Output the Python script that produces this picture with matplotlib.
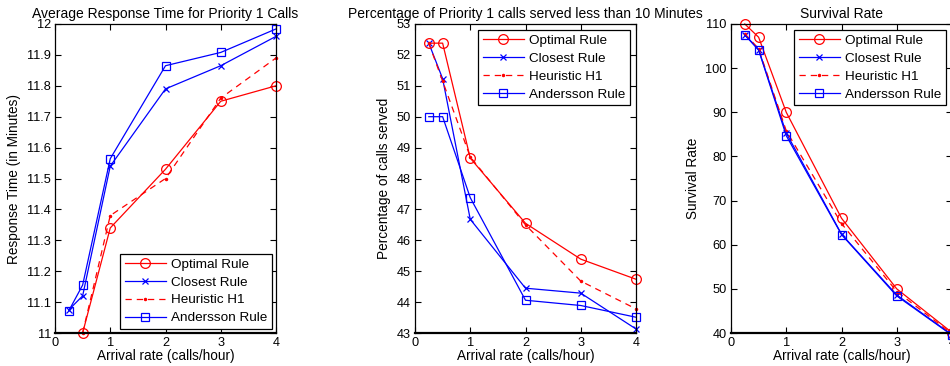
import numpy as np
import matplotlib
matplotlib.use("Agg")
import matplotlib.pyplot as plt
from matplotlib.ticker import FixedLocator, FuncFormatter

plt.rcParams['font.family'] = ['Liberation Sans', 'DejaVu Sans']
plt.rcParams['font.size'] = 9

# Arrival rates (calls/hour)
arrival = [0.25, 0.5, 1, 2, 3, 4]
nan = np.nan

# Average response time for priority 1 calls (minutes)
resp_optimal = [nan, 11.00, 11.34, 11.53, 11.75, 11.80]
resp_closest = [11.075, 11.12, 11.54, 11.79, 11.865, 11.96]
resp_heuristic = [nan, 11.00, 11.38, 11.50, 11.76, 11.89]
resp_andersson = [11.072, 11.155, 11.564, 11.865, 11.908, 11.984]

# Percentage of priority 1 calls served within 10 minutes
pct_optimal = [52.38, 52.38, 48.66, 46.55, 45.39, 44.74]
pct_closest = [52.38, 51.23, 46.68, 44.45, 44.29, 43.13]
pct_heuristic = [52.38, 51.15, 48.70, 46.50, 44.68, 43.78]
pct_andersson = [50.0, 50.0, 47.38, 44.06, 43.89, 43.51]

# Survival rate
surv_optimal = [110.0, 107.0, 90.0, 66.0, 50.0, 40.1]
surv_closest = [107.6, 104.2, 85.3, 62.4, 48.6, 39.6]
surv_heuristic = [107.8, 104.4, 85.8, 64.8, 49.4, 39.8]
surv_andersson = [107.5, 104.1, 84.7, 62.3, 48.4, 39.5]

titles = ["Average Response Time for Priority 1 Calls",
          "Percentage of Priority 1 calls served less than 10 Minutes",
          "Survival Rate"]
ylabels = ["Response Time (in Minutes)", "Percentage of calls served", "Survival Rate"]
xlabel = "Arrival rate (calls/hour)"
legend_labels = ["Optimal Rule", "Closest Rule", "Heuristic H1", "Andersson Rule"]

panels = [
    (resp_optimal, resp_closest, resp_heuristic, resp_andersson),
    (pct_optimal, pct_closest, pct_heuristic, pct_andersson),
    (surv_optimal, surv_closest, surv_heuristic, surv_andersson),
]
ylims = [(11, 12), (43, 53), (40, 110)]
yticks = [np.round(np.arange(11, 12.001, 0.1), 1), np.arange(43, 54, 1), np.arange(40, 111, 10)]
legend_locs = ["lower right", "upper right", "upper right"]
legend_pads = [0.3, 0.45, 0.45]

W, H = 950, 366
fig = plt.figure(figsize=(W / 100, H / 100), dpi=100)
lefts = [55, 415, 731]
ax_w, top_px, bot_px = 221, 24, 333

RED = (1, 0, 0)
BLUE = (0, 0, 1)

for i, (opt, clo, heu, anders) in enumerate(panels):
    ax = fig.add_axes([lefts[i] / W, 1 - bot_px / H, ax_w / W, (bot_px - top_px) / H])
    ax.plot(arrival, opt, '-', color=RED, marker='o', mfc='none', ms=7, lw=0.9, mew=0.9,
            label=legend_labels[0], clip_on=False)
    ax.plot(arrival, clo, '-', color=BLUE, marker='x', ms=5, lw=0.9, mew=0.9,
            label=legend_labels[1], clip_on=False)
    ax.plot(arrival, heu, '--', color=RED, marker='.', ms=3, lw=0.9, dashes=(5, 4),
            label=legend_labels[2], clip_on=False)
    ax.plot(arrival, anders, '-', color=BLUE, marker='s', mfc='none', ms=6, lw=0.9, mew=0.9,
            label=legend_labels[3], clip_on=False)
    ax.set_xlim(0, 4)
    ax.set_ylim(*ylims[i])
    ax.set_xticks([0, 1, 2, 3, 4])
    ax.yaxis.set_major_locator(FixedLocator(yticks[i]))
    ax.yaxis.set_major_formatter(FuncFormatter(lambda v, p: f"{v:g}"))
    ax.tick_params(direction='in', top=True, right=True, length=4, width=0.8,
                   labelsize=9.2, pad=3)
    for s in ax.spines.values():
        s.set_linewidth(0.9)
    ax.spines['bottom'].set_linewidth(1.6)
    ax.set_title(titles[i], fontsize=10, pad=4)
    ax.set_xlabel(xlabel, fontsize=9.8, labelpad=0)
    ax.set_ylabel(ylabels[i], fontsize=9.8, labelpad=4)
    leg = ax.legend(loc=legend_locs[i], fontsize=9.7, frameon=True, fancybox=False,
                    edgecolor='black', framealpha=1, handlelength=3.0, handletextpad=0.4,
                    borderpad=0.35, labelspacing=0.4, borderaxespad=legend_pads[i])
    leg.get_frame().set_linewidth(0.9)

fig.savefig("out.png", dpi=100)
